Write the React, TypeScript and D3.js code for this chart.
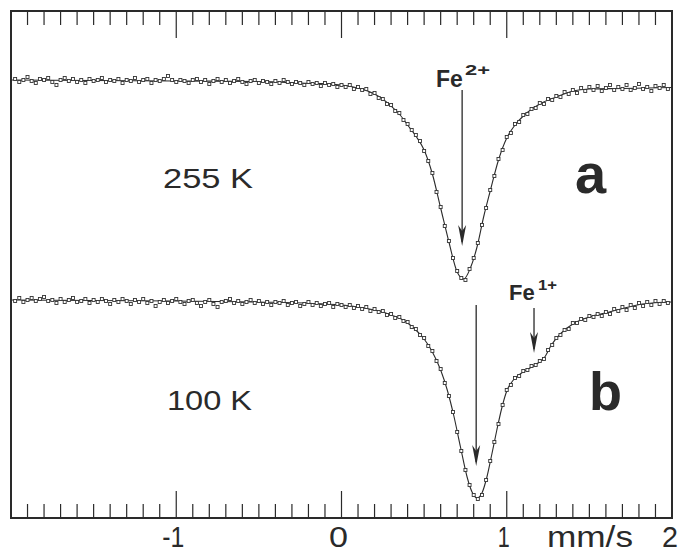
import * as d3 from "d3";

// channel velocities (mm/s): 159 channels from -1.975 in 0.025 steps
const channelStart = -1.975;
const channelStep = 0.025;

// 255 K spectrum, relative transmission (%)
const spectrumA = [
  99.9, 99.6, 99.8, 100.1, 99.7, 99.5, 99.9, 99.8, 100.0, 99.6,
  99.3, 99.8, 100.0, 99.7, 99.9, 99.6, 99.8, 99.5, 99.9, 99.7,
  99.8, 100.0, 99.6, 99.8, 99.7, 99.9, 99.5, 99.8, 99.7, 100.0,
  99.6, 99.8, 99.9, 99.5, 99.8, 99.7, 99.9, 100.2, 99.8, 99.6,
  99.8, 99.7, 99.5, 99.8, 99.9, 99.6, 99.8, 99.4, 99.7, 99.9,
  99.6, 99.8, 99.5, 99.7, 99.9, 99.6, 99.4, 99.7, 99.8, 99.5,
  99.7, 99.6, 99.4, 99.7, 99.5, 99.8, 99.6, 99.4, 99.6, 99.5,
  99.3, 99.6, 99.4, 99.5, 99.2, 99.5, 99.3, 99.4, 99.1, 99.3,
  99.1, 99.3, 98.9, 99.1, 98.8, 98.9, 98.4, 98.5, 98.0, 97.9,
  97.4, 97.3, 96.7, 96.5, 95.8, 95.4, 94.8, 94.3, 93.7, 92.7,
  91.7, 90.5, 88.6, 87.1, 85.2, 83.7, 82.0, 80.7, 80.0, 79.8,
  80.9, 82.0, 83.5, 85.3, 87.0, 88.8, 90.2, 91.9, 92.8, 94.1,
  94.5, 95.4, 95.6, 96.3, 96.4, 96.9, 97.0, 97.5, 97.4, 97.9,
  97.8, 98.2, 98.1, 98.6, 98.4, 98.8, 98.5, 99.0, 98.7, 99.1,
  98.8, 99.2, 98.7, 99.0, 99.3, 98.8, 99.1, 98.9, 99.3, 98.8,
  99.0, 99.4, 98.9, 99.1, 98.7, 99.2, 99.0, 99.3, 98.9,
];

// 100 K spectrum, relative transmission (%)
const spectrumB = [
  99.9, 100.2, 99.8, 100.0, 100.2, 99.9, 100.1, 100.3, 99.9, 100.0,
  99.7, 100.1, 99.8, 100.0, 100.2, 99.8, 99.9, 100.1, 99.7, 100.0,
  99.8, 100.1, 99.9, 99.6, 100.0, 99.8, 100.1, 99.9, 99.6, 100.0,
  99.8, 100.1, 99.7, 99.9, 99.4, 99.8, 100.0, 99.7, 99.9, 100.1,
  99.8, 99.6, 99.9, 100.0, 99.7, 99.4, 99.8, 100.0, 99.6, 99.3,
  99.8, 99.9, 100.1, 99.7, 99.9, 99.6, 99.8, 100.0, 99.7, 99.9,
  99.6, 99.8, 99.5, 99.8, 99.7, 99.9, 99.5, 99.7, 99.8, 99.4,
  99.6, 99.8, 99.5, 99.7, 99.4, 99.6, 99.7, 99.3, 99.6, 99.5,
  99.3, 99.5, 99.2, 99.4, 99.1, 99.3, 98.9, 99.1, 98.8, 98.9,
  98.5, 98.6, 98.2, 98.3, 97.9, 97.8, 97.3, 97.1, 96.5, 96.2,
  95.4, 94.9, 93.9, 93.1, 91.7, 90.4, 88.8, 86.8, 84.9, 83.0,
  81.5, 80.5, 80.1, 80.5, 82.0, 83.9, 85.8, 87.6, 89.5, 91.0,
  91.5, 92.2, 92.4, 92.9, 93.0, 93.4, 93.5, 93.9, 94.1, 95.0,
  95.5, 96.2, 96.5, 97.0, 97.1, 97.7, 97.7, 98.1, 98.0, 98.4,
  98.3, 98.6, 98.4, 98.8, 98.6, 99.1, 98.9, 99.3, 99.0, 99.5,
  99.2, 99.7, 99.4, 99.8, 99.5, 99.9, 99.6, 99.9, 99.7,
];

// fitted curves
const fitVelA = [-2.0, -1.0, -0.5, -0.25, 0.0, 0.1, 0.2, 0.24, 0.3, 0.35, 0.4, 0.45, 0.5, 0.55, 0.6, 0.65, 0.7, 0.74, 0.78, 0.82, 0.86, 0.9, 0.95, 1.0, 1.05, 1.1, 1.2, 1.3, 1.4, 1.5, 1.7, 2.0];
const fitA = [99.8, 99.7, 99.65, 99.5, 99.3, 99.0, 98.4, 98.0, 97.2, 96.4, 95.3, 94.2, 92.8, 90.4, 87.0, 83.6, 80.6, 79.9, 81.0, 83.1, 86.1, 88.7, 91.8, 94.0, 95.3, 96.2, 97.4, 98.1, 98.7, 98.9, 98.95, 99.05];
const fitVelB = [-2.0, -1.0, -0.5, 0.0, 0.1, 0.2, 0.25, 0.3, 0.35, 0.4, 0.45, 0.5, 0.55, 0.6, 0.64, 0.68, 0.72, 0.76, 0.79, 0.82, 0.85, 0.88, 0.91, 0.94, 0.97, 1.0, 1.04, 1.09, 1.14, 1.19, 1.23, 1.27, 1.33, 1.41, 1.5, 1.62, 1.74, 1.82, 2.0];
const fitB = [100.0, 99.9, 99.8, 99.5, 99.3, 99.0, 98.8, 98.5, 98.2, 97.7, 97.0, 96.1, 94.8, 93.0, 91.0, 88.4, 85.3, 82.3, 80.8, 80.2, 80.7, 82.3, 84.6, 87.0, 89.2, 90.9, 92.0, 92.7, 93.2, 93.7, 94.3, 95.5, 96.7, 97.7, 98.3, 98.8, 99.3, 99.6, 99.8];

const tickValues = [-1, 0, 1, 2];
const tickLabels = ["-1", "0", "1", "2"];
const unitLabel = "mm/s";

const FONT = "'Liberation Sans', Arial, Helvetica, sans-serif";
const INK = "#2a2a2a";

function Arrow({ x, y1, y2 }: { x: number; y1: number; y2: number }) {
  return (
    <g>
      <line x1={x} x2={x} y1={y1} y2={y2 - 4} stroke={INK} strokeWidth={1.3} />
      <path d={`M${x},${y2} L${x - 4},${y2 - 21} L${x},${y2 - 15} L${x + 4},${y2 - 21} Z`} fill={INK} />
    </g>
  );
}

export default function App() {
  const width = 679;
  const height = 553;
  const top = 11;
  const bottom = 518;

  const x = d3.scaleLinear().domain([-2, 2]).range([11, 672]);
  const yA = d3.scaleLinear().domain([100, 80]).range([78, 278]);
  const yB = d3.scaleLinear().domain([100, 80]).range([300, 500]);

  const vel = d3.range(spectrumA.length).map(i => channelStart + i * channelStep);
  const ticks = d3.range(-19, 20).map(i => i / 10);

  const lineA = d3.line<number>().x((_, i) => x(fitVelA[i])).y(d => yA(d)).curve(d3.curveMonotoneX);
  const lineB = d3.line<number>().x((_, i) => x(fitVelB[i])).y(d => yB(d)).curve(d3.curveMonotoneX);

  const s = 3;
  // widths of the (wide) bottom labels as seen in the figure
  const labelWidths = [22, 19, 12, 16];

  return (
    <svg width={width} height={height} style={{ position: "absolute", left: 0, top: 0, background: "#fff" }}>
      {/* ticks top and bottom */}
      {ticks.map(t => {
        const major = Math.abs(t - Math.round(t)) < 1e-6;
        const len = major ? 27 : 14;
        return (
          <g key={t}>
            <line x1={x(t)} x2={x(t)} y1={top} y2={top + len} stroke={INK} strokeWidth={1.2} />
            <line x1={x(t)} x2={x(t)} y1={bottom} y2={bottom - len} stroke={INK} strokeWidth={1.2} />
          </g>
        );
      })}
      <rect x={x(-2)} y={top} width={x(2) - x(-2)} height={bottom - top} fill="none" stroke={INK} strokeWidth={2} />

      {/* fits */}
      <path d={lineA(fitA) || ""} fill="none" stroke={INK} strokeWidth={1.1} />
      <path d={lineB(fitB) || ""} fill="none" stroke={INK} strokeWidth={1.1} />

      {/* data points */}
      {spectrumA.map((d, i) => (
        <rect key={"a" + i} x={x(vel[i]) - s / 2} y={yA(d) - s / 2} width={s} height={s} fill="#fff" stroke="#333" strokeWidth={0.9} />
      ))}
      {spectrumB.map((d, i) => (
        <rect key={"b" + i} x={x(vel[i]) - s / 2} y={yB(d) - s / 2} width={s} height={s} fill="#fff" stroke="#333" strokeWidth={0.9} />
      ))}

      {/* arrows and labels */}
      <Arrow x={x(0.73)} y1={90} y2={246} />
      <text x={436} y={87} fontFamily={FONT} fontWeight="bold" fontSize={23} fill={INK}>Fe</text>
      <text x={465} y={75} fontFamily={FONT} fontWeight="bold" fontSize={14} fill={INK} textLength={25} lengthAdjust="spacingAndGlyphs">2+</text>

      <Arrow x={x(0.815)} y1={305} y2={466} />
      <Arrow x={x(1.165)} y1={308} y2={353} />
      <text x={509} y={300} fontFamily={FONT} fontWeight="bold" fontSize={22} fill={INK}>Fe</text>
      <text x={538} y={290} fontFamily={FONT} fontWeight="bold" fontSize={14} fill={INK} textLength={19} lengthAdjust="spacingAndGlyphs">1+</text>

      <text x={163} y={188} fontFamily={FONT} fontSize={28} fill={INK} textLength={90} lengthAdjust="spacingAndGlyphs">255 K</text>
      <text x={167} y={410} fontFamily={FONT} fontSize={28} fill={INK} textLength={85} lengthAdjust="spacingAndGlyphs">100 K</text>
      <text x={575} y={193} fontFamily={FONT} fontWeight="bold" fontSize={56} fill={INK}>a</text>
      <text x={589} y={410} fontFamily={FONT} fontWeight="bold" fontSize={54} fill={INK}>b</text>

      {/* axis labels */}
      {tickValues.map((v, i) => (
        <text key={v} x={x(v) - (v === 2 ? 2 : 3) - labelWidths[i] / 2} y={547} fontFamily={FONT} fontSize={29} fill={INK}
          textLength={labelWidths[i]} lengthAdjust="spacingAndGlyphs">
          {tickLabels[i]}
        </text>
      ))}
      <text x={547} y={547} fontFamily={FONT} fontSize={29} fill={INK} textLength={86} lengthAdjust="spacingAndGlyphs">{unitLabel}</text>
    </svg>
  );
}
